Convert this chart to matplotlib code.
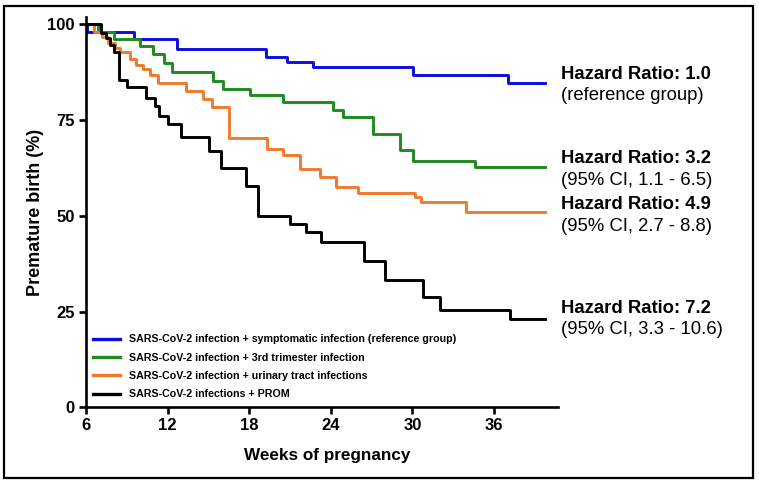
import matplotlib
matplotlib.use('Agg')
import matplotlib.pyplot as plt
from matplotlib.patches import Rectangle
from matplotlib.lines import Line2D

# datos (semanas, % sin parto prematuro)
weeks_blue = [6.0, 6.1, 9.5, 12.7, 19.2, 20.75, 22.7, 30.05, 37.0, 39.75]
surv_blue = [100, 98.0, 96.2, 93.6, 91.4, 90.2, 88.8, 86.8, 84.7, 84.7]

weeks_green = [6.0, 6.9, 8.06, 9.97, 10.9, 11.7, 12.3, 15.3, 16.1, 18.05, 20.46,
               24.15, 24.9, 27.1, 29.05, 30.03, 34.6, 39.75]
surv_green = [100, 98.0, 96.2, 94.4, 92.2, 89.8, 87.5, 85.3, 83.1, 81.5, 79.8,
              77.7, 75.7, 71.4, 67.3, 64.2, 62.7, 62.7]

weeks_orange = [6.0, 6.6, 7.2, 7.6, 8.1, 8.5, 9.2, 9.7, 10.2, 10.7, 11.3, 13.35,
                14.6, 15.25, 16.5, 19.3, 20.5, 21.7, 23.2, 24.4, 26.0, 30.2, 30.6,
                33.9, 39.75]
surv_orange = [100, 98.0, 96.6, 95.2, 93.9, 92.8, 90.9, 89.4, 88.3, 86.8, 84.8, 82.5,
               80.5, 78.4, 70.3, 67.4, 65.8, 62.1, 60.1, 57.6, 55.9, 54.9, 53.5,
               51.1, 51.1]

weeks_black = [6.0, 7.08, 7.45, 7.8, 8.06, 8.4, 9.04, 10.4, 11.1, 11.4, 12.0, 12.95,
               15.07, 15.9, 17.76, 18.67, 21.0, 22.2, 23.26, 26.44, 27.99, 30.76,
               32.03, 37.2, 39.75]
surv_black = [100, 97.7, 96.4, 94.7, 92.7, 85.5, 83.7, 80.8, 78.6, 76.1, 73.9, 70.7,
              66.8, 62.4, 57.8, 50.0, 47.9, 45.9, 43.1, 38.2, 33.3, 28.9,
              25.4, 23.0, 23.0]

labels = ['SARS-CoV-2 infection + symptomatic infection (reference group)',
          'SARS-CoV-2 infection + 3rd trimester infection',
          'SARS-CoV-2 infection + urinary tract infections',
          'SARS-CoV-2 infections + PROM']
colors = ['#0c0ce0', '#1f8a1f', '#f07a2d', '#000000']

hr_titles = ['Hazard Ratio: 1.0', 'Hazard Ratio: 3.2', 'Hazard Ratio: 4.9', 'Hazard Ratio: 7.2']
hr_notes = ['(reference group)', '(95% CI, 1.1 - 6.5)', '(95% CI, 2.7 - 8.8)', '(95% CI, 3.3 - 10.6)']

x_ticks = [6, 12, 18, 24, 30, 36]
y_ticks = [0, 25, 50, 75, 100]

plt.rcParams['font.family'] = ['Liberation Sans', 'DejaVu Sans']

fig = plt.figure(figsize=(7.59, 4.84), dpi=100)
ax = fig.add_axes([0.1133, 0.1585, 0.6219, 0.807])

series = [(weeks_blue, surv_blue), (weeks_green, surv_green),
          (weeks_orange, surv_orange), (weeks_black, surv_black)]
for (w, s), c in zip(series, colors):
    ax.step(w, s, where='post', color=c, lw=2.1)

ax.set_xlim(6, 40.7)
ax.set_ylim(0, 102)
ax.set_xticks(x_ticks)
ax.set_yticks(y_ticks)
for side in ['top', 'right']:
    ax.spines[side].set_visible(False)
for side in ['left', 'bottom']:
    ax.spines[side].set_linewidth(1.9)
ax.tick_params(direction='out', length=5, width=1.9, labelsize=12, pad=3)
for lab in ax.get_xticklabels() + ax.get_yticklabels():
    lab.set_fontweight('bold')

ax.set_xlabel('Weeks of pregnancy', fontsize=12.3, fontweight='bold')
ax.xaxis.set_label_coords(0.51, -0.105)
ax.set_ylabel('Premature birth (%)', fontsize=13, fontweight='bold')
ax.yaxis.set_label_coords(-0.09, 0.5)

handles = [Line2D([], [], color=c, lw=2.4) for c in colors]
ax.legend(handles, labels, loc='lower left', bbox_to_anchor=(0.015, 0.02),
          frameon=False, borderpad=0, borderaxespad=0, handlelength=2.5,
          handletextpad=0.9, labelspacing=0.78,
          prop={'weight': 'bold', 'size': 7.7})

# textos de hazard ratio
title_y = [0.8465, 0.673, 0.5779, 0.363]
note_y = [0.8017, 0.6267, 0.5316, 0.3196]
for t, n, ty, ny in zip(hr_titles, hr_notes, title_y, note_y):
    fig.text(0.739, ty, t, fontsize=13.3, fontweight='bold', va='center', ha='left')
    fig.text(0.739, ny, n, fontsize=13.3, va='center', ha='left')

# marco exterior
fig.patches.append(Rectangle((0.0053, 0.0124), 0.9868, 0.975, transform=fig.transFigure,
                             fill=False, edgecolor='black', lw=1.6))

fig.savefig('out.png', dpi=100)
